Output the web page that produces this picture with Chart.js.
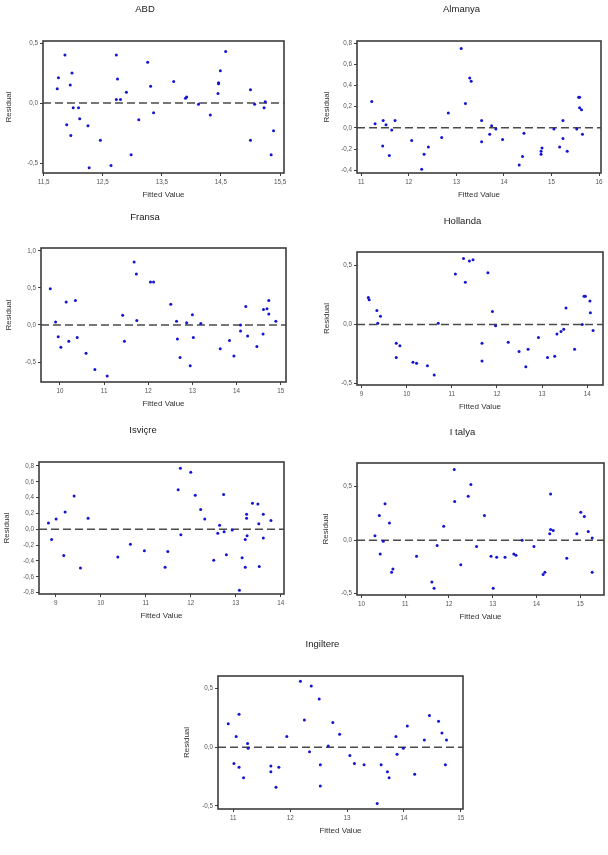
<!DOCTYPE html>
<html>
<head>
<meta charset="utf-8">
<script src="https://cdn.jsdelivr.net/npm/chart.js@4.4.1/dist/chart.umd.min.js"></script>
<style>
html, body { margin: 0; padding: 0; background: #fff; overflow: hidden; width: 608px; height: 855px; }
canvas { position: absolute; }
</style>
</head>
<body>
<canvas id="abd"></canvas>
<canvas id="almanya"></canvas>
<canvas id="fransa"></canvas>
<canvas id="hollanda"></canvas>
<canvas id="isvicre"></canvas>
<canvas id="italya"></canvas>
<canvas id="ingiltere"></canvas>
<script>
// ABD
var abdFitted = [11.73, 11.75, 11.86, 11.89, 11.95, 11.96, 11.98, 12.00, 12.09, 12.11, 12.25, 12.27, 12.46, 12.64, 12.73, 12.73, 12.75, 12.80, 12.90, 12.98, 13.11, 13.26, 13.31, 13.36, 13.70, 13.90, 13.92, 14.12, 14.32, 14.45, 14.46, 14.46, 14.49, 14.58, 15.00, 15.00, 15.07, 15.23, 15.25, 15.35, 15.39];
var abdResidual = [0.12, 0.21, 0.40, -0.18, 0.15, -0.27, 0.25, -0.04, -0.04, -0.13, -0.19, -0.54, -0.31, -0.52, 0.40, 0.03, 0.20, 0.03, 0.09, -0.43, -0.14, 0.34, 0.14, -0.08, 0.18, 0.04, 0.05, -0.01, -0.10, 0.08, 0.16, 0.17, 0.27, 0.43, 0.11, -0.31, -0.01, -0.04, 0.01, -0.43, -0.23];
var abdXTicks = [11.5, 12.5, 13.5, 14.5, 15.5];
var abdYTicks = [-0.5, 0, 0.5];

// Almanya
var almanyaFitted = [11.22, 11.29, 11.45, 11.46, 11.52, 11.59, 11.64, 11.71, 12.06, 12.27, 12.32, 12.41, 12.69, 12.83, 13.10, 13.19, 13.28, 13.31, 13.53, 13.53, 13.70, 13.74, 13.83, 13.97, 14.32, 14.39, 14.42, 14.78, 14.78, 14.80, 15.05, 15.17, 15.24, 15.24, 15.33, 15.53, 15.57, 15.59, 15.59, 15.63, 15.65];
var almanyaResidual = [0.25, 0.04, -0.17, 0.07, 0.03, -0.26, -0.02, 0.07, -0.12, -0.39, -0.25, -0.18, -0.09, 0.14, 0.75, 0.23, 0.47, 0.44, 0.07, -0.13, -0.06, 0.02, -0.01, -0.11, -0.35, -0.27, -0.05, -0.25, -0.22, -0.19, -0.01, -0.18, 0.07, -0.10, -0.22, -0.01, 0.29, 0.29, 0.19, 0.17, -0.06];
var almanyaXTicks = [11, 12, 13, 14, 15, 16];
var almanyaYTicks = [-0.4, -0.2, 0, 0.2, 0.4, 0.6, 0.8];

// Fransa
var fransaFitted = [9.78, 9.90, 9.96, 10.02, 10.14, 10.20, 10.35, 10.39, 10.59, 10.79, 11.07, 11.42, 11.46, 11.68, 11.73, 11.74, 12.05, 12.12, 12.51, 12.64, 12.66, 12.72, 12.87, 12.95, 13.00, 13.02, 13.19, 13.63, 13.84, 13.94, 14.09, 14.09, 14.21, 14.25, 14.46, 14.60, 14.61, 14.69, 14.73, 14.73, 14.89];
var fransaResidual = [0.49, 0.04, -0.16, -0.30, 0.31, -0.22, 0.33, -0.17, -0.38, -0.60, -0.69, 0.13, -0.22, 0.85, 0.69, 0.06, 0.58, 0.58, 0.28, 0.05, -0.19, -0.44, 0.03, -0.55, 0.14, -0.17, 0.02, -0.32, -0.21, -0.42, 0.00, -0.08, 0.25, -0.15, -0.29, -0.12, 0.21, 0.22, 0.33, 0.15, 0.05];
var fransaXTicks = [10, 11, 12, 13, 14, 15];
var fransaYTicks = [-0.5, 0, 0.5, 1.0];

// Hollanda
var hollandaFitted = [9.15, 9.17, 9.34, 9.36, 9.42, 9.77, 9.77, 9.85, 10.14, 10.22, 10.46, 10.61, 10.70, 11.08, 11.26, 11.30, 11.39, 11.47, 11.67, 11.67, 11.80, 11.90, 11.97, 12.25, 12.49, 12.64, 12.69, 12.92, 13.12, 13.28, 13.33, 13.42, 13.48, 13.53, 13.72, 13.89, 13.93, 13.96, 14.06, 14.07, 14.13];
var hollandaResidual = [0.23, 0.21, 0.12, 0.01, 0.07, -0.16, -0.28, -0.18, -0.32, -0.33, -0.35, -0.43, 0.01, 0.43, 0.56, 0.36, 0.54, 0.55, -0.16, -0.31, 0.44, 0.11, -0.01, -0.15, -0.23, -0.36, -0.21, -0.11, -0.28, -0.27, -0.08, -0.06, -0.04, 0.14, -0.21, 0.00, 0.24, 0.24, 0.20, 0.10, -0.05];
var hollandaXTicks = [9, 10, 11, 12, 13, 14];
var hollandaYTicks = [-0.5, 0, 0.5];

// Isviçre
var isvicreFitted = [8.84, 8.91, 9.01, 9.18, 9.21, 9.41, 9.55, 9.72, 10.38, 10.66, 10.97, 11.43, 11.49, 11.72, 11.77, 11.78, 12.00, 12.10, 12.22, 12.31, 12.51, 12.60, 12.64, 12.73, 12.74, 12.79, 12.92, 13.08, 13.14, 13.21, 13.21, 13.24, 13.24, 13.25, 13.37, 13.49, 13.51, 13.52, 13.61, 13.61, 13.78];
var isvicreResidual = [0.08, -0.13, 0.13, -0.33, 0.22, 0.42, -0.49, 0.14, -0.35, -0.19, -0.27, -0.48, -0.28, 0.50, 0.77, -0.07, 0.72, 0.43, 0.25, 0.13, -0.39, -0.05, 0.05, 0.44, -0.03, -0.32, -0.01, -0.77, -0.36, -0.13, -0.48, 0.19, 0.14, -0.08, 0.33, 0.32, 0.07, -0.47, 0.19, -0.11, 0.11];
var isvicreXTicks = [9, 10, 11, 12, 13, 14];
var isvicreYTicks = [-0.8, -0.6, -0.4, -0.2, 0, 0.2, 0.4, 0.6, 0.8];

// Italya
var italyaFitted = [10.31, 10.41, 10.43, 10.50, 10.54, 10.64, 10.69, 10.72, 11.26, 11.61, 11.66, 11.73, 11.88, 12.12, 12.13, 12.27, 12.44, 12.50, 12.63, 12.81, 12.96, 13.01, 13.09, 13.28, 13.48, 13.53, 13.67, 13.94, 14.15, 14.19, 14.30, 14.32, 14.32, 14.38, 14.69, 14.92, 15.01, 15.09, 15.18, 15.27, 15.27];
var italyaResidual = [0.04, 0.23, -0.13, -0.01, 0.34, 0.16, -0.30, -0.27, -0.15, -0.39, -0.45, -0.05, 0.13, 0.66, 0.36, -0.23, 0.41, 0.52, -0.06, 0.23, -0.15, -0.45, -0.16, -0.16, -0.13, -0.14, 0.00, -0.06, -0.32, -0.30, 0.06, 0.10, 0.43, 0.09, -0.17, 0.06, 0.26, 0.22, 0.08, 0.02, -0.30];
var italyaXTicks = [10, 11, 12, 13, 14, 15];
var italyaYTicks = [-0.5, 0, 0.5];

// Ingiltere
var ingiltereFitted = [10.91, 11.01, 11.05, 11.10, 11.10, 11.18, 11.25, 11.26, 11.66, 11.66, 11.75, 11.80, 11.94, 12.18, 12.25, 12.34, 12.37, 12.51, 12.53, 12.53, 12.67, 12.75, 12.87, 13.05, 13.13, 13.30, 13.53, 13.60, 13.71, 13.74, 13.86, 13.88, 13.99, 14.06, 14.19, 14.36, 14.45, 14.61, 14.67, 14.75, 14.73];
var ingiltereResidual = [0.20, -0.14, 0.09, 0.28, -0.17, -0.26, 0.03, -0.01, -0.16, -0.21, -0.34, -0.17, 0.09, 0.56, 0.23, -0.04, 0.52, 0.41, -0.15, -0.33, 0.01, 0.21, 0.11, -0.07, -0.14, -0.15, -0.48, -0.15, -0.21, -0.26, 0.09, -0.06, -0.01, 0.18, -0.23, 0.06, 0.27, 0.22, 0.12, 0.06, -0.15];
var ingiltereXTicks = [11, 12, 13, 14, 15];
var ingiltereYTicks = [-0.5, 0, 0.5];

var FONT = "'Liberation Sans', Arial, sans-serif";

function fmt(v, d) {
  return v.toFixed(d).replace('.', ',');
}

// frame around the plot area
var framePlugin = {
  id: 'frame',
  afterDraw: function(chart) {
    var a = chart.chartArea, ctx = chart.ctx;
    ctx.save();
    ctx.strokeStyle = '#3c3c3c';
    ctx.lineWidth = 1.6;
    ctx.strokeRect(a.left, a.top, a.right - a.left, a.bottom - a.top);
    ctx.restore();
  }
};

function drawPanel(id, title, fitted, residual, xTicks, yTicks, xRange, yRange, xDec, geo) {
  var box = geo.box;
  var L = geo.resX - 5;
  var W = 2 * (geo.titleX - L);
  var T = geo.titleY - 6;
  var H = box[3] + 27 - T;
  var canvas = document.getElementById(id);
  canvas.width = W;
  canvas.height = H;
  canvas.style.left = L + 'px';
  canvas.style.top = T + 'px';
  canvas.style.width = W + 'px';
  canvas.style.height = H + 'px';

  var points = [];
  for (var i = 0; i < fitted.length; i++) {
    points.push({x: fitted[i], y: residual[i]});
  }

  new Chart(canvas.getContext('2d'), {
    type: 'scatter',
    data: {
      datasets: [{
        data: points,
        pointRadius: 1.5,
        pointBackgroundColor: '#1414d2',
        pointBorderWidth: 0,
        order: 0
      },
      {
        // reference line at zero
        data: [{x: xRange[0], y: 0}, {x: xRange[1], y: 0}],
        showLine: true,
        borderColor: '#4a4a4a',
        borderWidth: 1.5,
        borderDash: [8, 4],
        pointRadius: 0,
        order: 1
      }]
    },
    options: {
      responsive: false,
      animation: false,
      layout: {padding: {left: 0, right: L + W - box[2], top: 0, bottom: 0}},
      plugins: {
        legend: {display: false},
        tooltip: {enabled: false},
        title: {
          display: true,
          text: title,
          color: '#1a1a1a',
          font: {family: FONT, size: 9.5, weight: 'normal'},
          padding: {top: 1, bottom: box[1] - T - 1 - 11.4}
        }
      },
      scales: {
        x: {
          type: 'linear',
          min: xRange[0],
          max: xRange[1],
          grid: {drawOnChartArea: false, drawTicks: true, tickLength: 3, color: '#3c3c3c'},
          border: {display: false},
          ticks: {
            autoSkip: false, maxRotation: 0, padding: 2, color: '#555',
            font: {family: FONT, size: 6.3},
            callback: function(v) { return fmt(v, xDec); }
          },
          title: {
            display: true, text: 'Fitted Value', color: '#333',
            font: {family: FONT, size: 8}, padding: 0
          },
          afterBuildTicks: function(s) {
            s.ticks = xTicks.map(function(v) { return {value: v}; });
          },
          afterFit: function(s) {
            s.height = 27;
            s.paddingLeft = 0;
            s.paddingRight = 0;
          }
        },
        y: {
          type: 'linear',
          min: yRange[0],
          max: yRange[1],
          grid: {drawOnChartArea: false, drawTicks: true, tickLength: 3, color: '#3c3c3c'},
          border: {display: false},
          ticks: {
            autoSkip: false, padding: 2, color: '#555',
            font: {family: FONT, size: 6.3},
            callback: function(v) { return fmt(v, 1); }
          },
          title: {
            display: true, text: 'Residual', color: '#333',
            font: {family: FONT, size: 8}, padding: 0
          },
          afterBuildTicks: function(s) {
            s.ticks = yTicks.map(function(v) { return {value: v}; });
          },
          afterFit: function(s) {
            s.width = box[0] - L;
            s.paddingTop = 0;
            s.paddingBottom = 0;
          }
        }
      }
    },
    plugins: [framePlugin]
  });
}

drawPanel('abd', 'ABD', abdFitted, abdResidual, abdXTicks, abdYTicks,
  [11.489, 15.567], [-0.583, 0.517], 1,
  {box: [43, 41, 286, 173], titleX: 146, titleY: 9, resX: 9});
drawPanel('almanya', 'Almanya', almanyaFitted, almanyaResidual, almanyaXTicks, almanyaYTicks,
  [10.91, 16.04], [-0.426, 0.82], 0,
  {box: [357, 41, 601, 173], titleX: 476, titleY: 9, resX: 327});
drawPanel('fransa', 'Fransa', fransaFitted, fransaResidual, fransaXTicks, fransaYTicks,
  [9.57, 15.12], [-0.77, 1.04], 0,
  {box: [41, 248, 286, 382], titleX: 161, titleY: 217, resX: 9});
drawPanel('hollanda', 'Hollanda', hollandaFitted, hollandaResidual, hollandaXTicks, hollandaYTicks,
  [8.9, 14.35], [-0.514, 0.616], 0,
  {box: [357, 252, 603, 385], titleX: 481, titleY: 221, resX: 327});
drawPanel('isvicre', 'Isviçre', isvicreFitted, isvicreResidual, isvicreXTicks, isvicreYTicks,
  [8.63, 14.07], [-0.817, 0.85], 0,
  {box: [39, 462, 284, 594], titleX: 153, titleY: 430, resX: 7});
drawPanel('italya', 'I talya', italyaFitted, italyaResidual, italyaXTicks, italyaYTicks,
  [9.9, 15.54], [-0.512, 0.72], 0,
  {box: [357, 463, 604, 595], titleX: 473, titleY: 432, resX: 326});
drawPanel('ingiltere', 'Ingiltere', ingiltereFitted, ingiltereResidual, ingiltereXTicks, ingiltereYTicks,
  [10.73, 15.04], [-0.526, 0.605], 0,
  {box: [218, 676, 463, 809], titleX: 329, titleY: 644, resX: 187});
</script>
</body>
</html>
